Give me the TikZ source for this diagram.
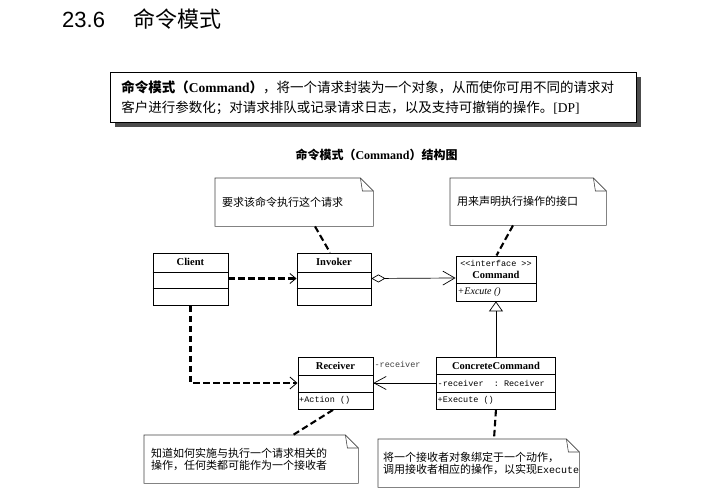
\documentclass[tikz,border=0pt]{standalone}
\usepackage{fontspec}
\setmainfont{Liberation Serif}
\setsansfont{Liberation Sans}
\setmonofont{Liberation Mono}
\newfontfamily\cjk{Noto Sans CJK SC}
\usetikzlibrary{arrows.meta,positioning,calc,shadows}

\begin{document}
\begin{tikzpicture}[
    x=1pt, y=-1pt,
    umlclass/.style={rectangle, draw, line width=0.9pt, anchor=north west, inner sep=0pt},
    classname/.style={font=\bfseries\fontsize{10.5}{12}\selectfont, inner sep=0pt},
    member/.style={font=\ttfamily\fontsize{8.5}{10}\selectfont, inner sep=1pt},
    note/.style={rectangle, anchor=north west, align=left, inner xsep=7pt, inner ysep=0pt, font=\cjk\fontsize{11}{12.5}\selectfont},
    noteline/.style={draw=black!75, line width=0.6pt, line join=miter},
    divider/.style={draw, line width=0.9pt},
    dep/.style={draw, line width=2.1pt, dash pattern=on 6.5pt off 3.5pt},
    line/.style={draw, line width=0.7pt}
]
    \useasboundingbox (0,0) rectangle (712,500);

    % heading and definition
    \node [anchor=base west, inner sep=0pt, font=\sffamily\fontsize{22}{24}\selectfont] (title) at (62,28) {23.6\hspace*{28pt}{\cjk 命令模式}};
    \node [draw, line width=0.9pt, fill=white, anchor=north west, text width=504pt, minimum height=50pt, inner xsep=11pt, align=left,
        general shadow={fill=black!70, shadow xshift=5pt, shadow yshift=-5pt},
        font=\cjk\fontsize{13.5}{20}\selectfont] (defbox) at (110,72)
        {{\bfseries 命令模式（{\rmfamily Command}）}，将一个请求封装为一个对象，从而使你可用不同的请求对\\客户进行参数化；对请求排队或记录请求日志，以及支持可撤销的操作。{\rmfamily [DP]}};
    \node [font=\cjk\bfseries\fontsize{12}{14}\selectfont] (subtitle) at (376.5,155) {命令模式（{\rmfamily Command}）结构图};

    % classes
    \node [umlclass, minimum width=75pt, minimum height=52.5pt] (client) at (152.5,252.5) {};
    \node [classname] (clientname) at ($(client.north)+(0,9.75)$) {Client};
    \node [umlclass, minimum width=74pt, minimum height=52.5pt] (invoker) at (296.5,252.5) {};
    \node [classname] (invokername) at ($(invoker.north)+(0,9.75)$) {Invoker};
    \foreach \x in {client, invoker} {
        \draw [divider] ($(\x.north west)+(0,19.5)$) -- ($(\x.north east)+(0,19.5)$);
        \draw [divider] ($(\x.north west)+(0,35.5)$) -- ($(\x.north east)+(0,35.5)$);
    }

    \node [umlclass, minimum width=80pt, minimum height=45pt] (command) at (455.5,255.5) {};
    \node [member] (stereo) at ($(command.north)+(0,8)$) {<<interface >>};
    \node [classname] (commandname) at ($(command.north)+(0,19.5)$) {Command};
    \draw [divider] ($(command.north west)+(0,28)$) -- ($(command.north east)+(0,28)$);
    \node [anchor=west, inner sep=1pt, font=\itshape\fontsize{10}{12}\selectfont] (excute) at ($(command.north west)+(1,36.5)$) {+Excute ()};

    \node [umlclass, minimum width=75pt, minimum height=52pt] (receiver) at (297.5,357) {};
    \node [classname] (receivername) at ($(receiver.north)+(0,9)$) {Receiver};
    \draw [divider] ($(receiver.north west)+(0,18.5)$) -- ($(receiver.north east)+(0,18.5)$);
    \draw [divider] ($(receiver.north west)+(0,35)$) -- ($(receiver.north east)+(0,35)$);
    \node [member, anchor=west] (action) at ($(receiver.north west)+(0.5,43.5)$) {+Action ()};

    \node [umlclass, minimum width=119pt, minimum height=52pt] (concrete) at (436,357) {};
    \node [classname] (concretename) at ($(concrete.north)+(0,9)$) {ConcreteCommand};
    \draw [divider] ($(concrete.north west)+(0,17.5)$) -- ($(concrete.north east)+(0,17.5)$);
    \draw [divider] ($(concrete.north west)+(0,35)$) -- ($(concrete.north east)+(0,35)$);
    \node [member, anchor=west] (field) at ($(concrete.north west)+(0.5,26.5)$) {-receiver\ \ : Receiver};
    \node [member, anchor=west] (execute) at ($(concrete.north west)+(0.5,43.5)$) {+Execute ()};

    % notes
    \node [note, text width=144pt, minimum height=48pt] (invnote) at (215,178) {要求该命令执行这个请求};
    \node [note, text width=142pt, minimum height=47pt] (cmdnote) at (450,178) {用来声明执行操作的接口};
    \node [note, text width=200pt, minimum height=48pt] (rcvnote) at (144,435) {知道如何实施与执行一个请求相关的\\操作，任何类都可能作为一个接收者};
    \node [note, text width=191pt, minimum height=48pt, inner xsep=5pt] (ccnote) at (378,439) {将一个接收者对象绑定于一个动作，\\调用接收者相应的操作，以实现{\ttfamily\fontsize{10}{12}\selectfont Execute}};
    \foreach \n in {invnote, cmdnote, rcvnote, ccnote} {
        \draw [noteline] (\n.north west) -- ([xshift=-13pt]\n.north east) -- ([yshift=-13pt]\n.north east) -- (\n.south east) -- (\n.south west) -- cycle;
        \draw [noteline] ([xshift=-13pt]\n.north east) -- ([xshift=-11pt,yshift=-13pt]\n.north east) -- ([yshift=-13pt]\n.north east);
    }

    % connectors
    \draw [dep, -{Straight Barb[length=6pt, width=10pt, line width=0.8pt]}] ($(client.north east)+(0,26)$) -- ($(invoker.north west)+(0,26)$);
    \draw [line, {Diamond[open, length=14pt, width=8pt]}-{Straight Barb[length=12pt, width=14pt]}] ($(invoker.north east)+(0,26)$) -- ($(command.north west)+(0,22.5)$);
    \draw [dep, -{Straight Barb[length=7pt, width=12pt, line width=0.8pt]}] (client.south) |- ($(receiver.north west)+(0,26)$);
    \draw [line, -{Triangle[open, length=10pt, width=14pt]}] (concrete.north) -- (command.south);
    \draw [line, -{Straight Barb[length=12pt, width=13pt]}] ($(concrete.north west)+(0,26)$) -- ($(receiver.north east)+(0,26)$);
    \node [member, anchor=west, text=black!75] (rolename) at ($(receiver.north east)+(0,7)$) {-receiver};

    \draw [dep] ($(invnote.south west)+(100,0)$) -- ($(invoker.north west)+(33.5,0)$);
    \draw [dep] ($(cmdnote.south west)+(63,0)$) -- ($(command.north west)+(41,0)$);
    \draw [dep] ($(receiver.south west)+(35.5,0)$) -- ($(rcvnote.north west)+(149,0)$);
    \draw [dep] (concrete.south) -- ($(ccnote.north west)+(116,0)$);
\end{tikzpicture}
\end{document}
